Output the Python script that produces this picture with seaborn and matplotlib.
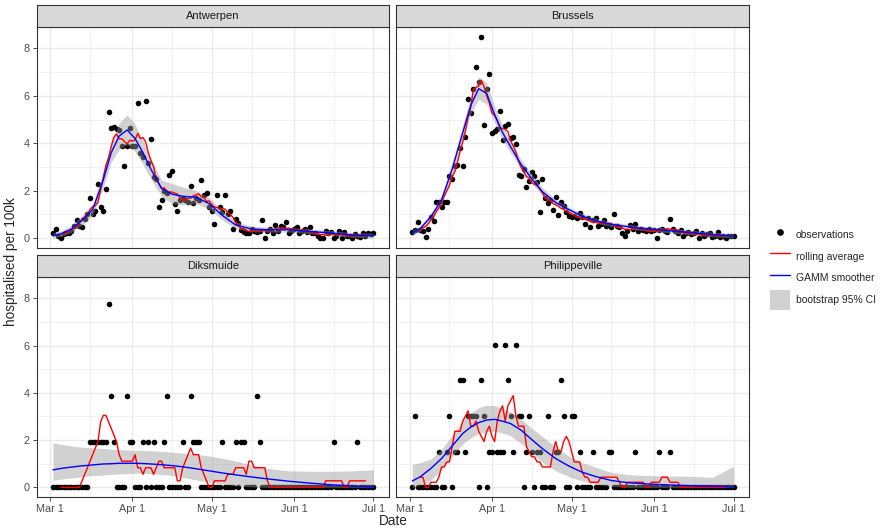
import pandas as pd
import seaborn as sns
import matplotlib.pyplot as plt
import matplotlib.dates as mdates
from matplotlib.ticker import MultipleLocator
from matplotlib.lines import Line2D
from matplotlib.patches import Patch

sns.set_theme(style="white")
plt.rcParams["font.family"] = ["Liberation Sans", "DejaVu Sans"]

GRID = "#ebebeb"
DARK = "#333333"
TICK_TXT = "#4d4d4d"

# observation dates, Mar 2 .. Jul 1
dates = pd.date_range("2020-03-02", "2020-07-01", freq="D")

antwerpen_obs = [
    0.2, 0.37, 0.1, 0.0, 0.15, 0.2, 0.2, 0.3, 0.5, 0.76,
    0.5, 0.48, 0.8, 1.0, 1.7, 1.0, 1.14, 2.28, 1.3, 1.14,
    2.08, 5.3, 4.66, 4.7, 4.6, 4.55, 3.88, 3.04, 3.88, 4.66,
    3.88, 3.88, 5.68, 3.6, 3.4, 5.8, 3.15, 4.16, 2.59, 2.5,
    1.32, 1.6, 2.0, 1.91, 2.66, 2.84, 1.43, 1.14, 1.6, 1.7,
    1.6, 1.5, 2.19, 1.46, 1.7, 1.6, 2.45, 1.81, 1.9, 1.3,
    1.14, 0.58, 1.81, 1.3, 1.1, 1.81, 1.0, 1.14, 0.37, 0.8,
    0.65, 0.34, 0.25, 0.2, 0.2, 0.4, 0.3, 0.25, 0.3, 0.76,
    0.0, 0.3, 0.4, 0.2, 0.55, 0.3, 0.5, 0.45, 0.66, 0.2,
    0.3, 0.4, 0.48, 0.2, 0.3, 0.38, 0.25, 0.45, 0.2, 0.2,
    0.1, 0.0, 0.0, 0.3, 0.2, 0.25, 0.0, 0.1, 0.3, 0.0,
    0.25, 0.1, 0.1, 0.0, 0.15, 0.1, 0.05, 0.2, 0.1, 0.2,
    0.15, 0.2,
]
brussels_obs = [
    0.27, 0.34, 0.69, 0.35, 0.3, 0.06, 0.4, 0.9, 0.7, 1.5,
    1.5, 1.3, 1.5, 1.5, 2.6, 2.5, 3.05, 3.1, 3.78, 3.05,
    4.28, 5.85, 5.26, 6.3, 7.23, 6.6, 8.47, 4.77, 6.3, 6.92,
    4.44, 4.5, 4.6, 5.37, 4.13, 4.73, 4.8, 4.2, 4.25, 3.97,
    2.66, 2.6, 2.9, 2.14, 2.4, 2.8, 2.6, 2.38, 1.08, 2.49,
    1.7, 1.49, 1.6, 1.18, 1.72, 0.97, 1.5, 1.35, 1.1, 0.93,
    0.9, 0.95, 0.85, 1.07, 0.9, 0.59, 0.85, 0.48, 0.75, 0.83,
    0.5, 0.6, 0.75, 0.5, 0.55, 0.45, 1.01, 0.5, 0.45, 0.2,
    0.1, 0.3, 0.55, 0.4, 0.59, 0.3, 0.4, 0.35, 0.3, 0.4,
    0.3, 0.35, 0.0, 0.35, 0.38, 0.3, 0.25, 0.8, 0.4, 0.3,
    0.2, 0.35, 0.1, 0.2, 0.25, 0.15, 0.2, 0.3, 0.0, 0.2,
    0.1, 0.15, 0.2, 0.05, 0.1, 0.25, 0.05, 0.1, 0.0, 0.1,
    0.1, 0.08,
]
diksmuide_obs = (
    [0] * 14 + [1.94] * 7 + [7.76, 3.88, 1.94] + [0] * 4 + [3.88, 1.94, 1.94]
    + [0] * 3 + [1.94, 0, 1.94, 0, 1.94] + [0] * 3 + [1.94, 3.88] + [0] * 5
    + [1.94, 0, 0, 3.88, 1.94, 1.94, 1.94] + [0] * 8 + [1.94] + [0] * 4
    + [1.94, 0, 1.94, 1.94] + [0] * 4 + [3.88, 1.94] + [0] * 27 + [1.94]
    + [0] * 8 + [1.94] + [0] * 6
)
philippeville_obs = (
    [0, 3.02] + [0] * 8 + [1.51, 0, 0, 1.51, 3.02, 0, 1.51, 1.51, 4.53, 4.53,
    1.51, 3.02, 3.02, 3.02, 3.02, 0, 4.53, 3.02, 0, 1.51, 1.51, 6.04, 1.51,
    1.51, 1.51, 6.04, 4.53, 3.02, 1.51, 6.04, 3.02, 3.02, 0, 1.51, 3.02, 1.51,
    0, 1.51, 1.51, 0, 0, 3.02, 0, 0, 1.51, 1.51, 4.53, 3.02, 0, 0, 3.02, 3.02,
    0, 1.51] + [0] * 4 + [1.51] + [0] * 5 + [1.51, 1.51] + [0] * 8 + [1.51]
    + [0] * 8 + [1.51, 0, 0, 0, 1.51] + [0] * 24
)

# GAMM smoother and bootstrap band, read at these days after Mar 1
smooth_days = [1, 4, 8, 12, 16, 20, 23, 26, 29, 32, 35, 38, 42, 46, 50, 55,
               60, 65, 70, 76, 82, 90, 98, 106, 114, 122]
antwerpen_fit = [0.1, 0.18, 0.38, 0.75, 1.2, 2.45, 3.6, 4.3, 4.56, 4.2, 3.6,
                 2.9, 2.1, 1.85, 1.76, 1.72, 1.45, 0.95, 0.55, 0.38, 0.35,
                 0.35, 0.28, 0.21, 0.13, 0.1]
antwerpen_lo = [0.0, 0.06, 0.23, 0.55, 0.95, 2.15, 3.2, 3.75, 3.95, 3.65, 3.1,
                2.5, 1.75, 1.45, 1.4, 1.45, 1.22, 0.76, 0.4, 0.26, 0.25, 0.25,
                0.18, 0.11, 0.03, 0.0]
antwerpen_hi = [0.22, 0.3, 0.53, 0.95, 1.45, 2.75, 4.0, 4.85, 5.2, 4.8, 4.1,
                3.3, 2.45, 2.3, 2.15, 2.0, 1.7, 1.15, 0.7, 0.5, 0.45, 0.45,
                0.38, 0.31, 0.23, 0.2]
brussels_fit = [0.22, 0.4, 0.9, 1.6, 2.9, 4.45, 5.6, 6.3, 6.1, 5.2, 4.45, 3.85,
                3.1, 2.5, 1.95, 1.5, 1.2, 0.92, 0.73, 0.58, 0.48, 0.38, 0.31,
                0.23, 0.15, 0.08]
brussels_lo = [0.1, 0.28, 0.75, 1.4, 2.6, 4.15, 5.25, 5.85, 5.65, 4.85, 4.15,
               3.6, 2.9, 2.3, 1.78, 1.38, 1.1, 0.82, 0.63, 0.48, 0.38, 0.28,
               0.21, 0.13, 0.05, 0.0]
brussels_hi = [0.34, 0.52, 1.05, 1.8, 3.2, 4.75, 5.95, 6.8, 6.55, 5.55, 4.75,
               4.1, 3.3, 2.7, 2.12, 1.62, 1.3, 1.02, 0.83, 0.68, 0.58, 0.48,
               0.41, 0.33, 0.25, 0.18]
diksmuide_fit = [0.74, 0.8, 0.86, 0.91, 0.95, 0.99, 1.0, 1.02, 1.02, 1.02,
                 1.01, 0.99, 0.96, 0.92, 0.87, 0.79, 0.7, 0.61, 0.53, 0.44,
                 0.36, 0.26, 0.18, 0.11, 0.06, 0.02]
diksmuide_lo = [0.3, 0.35, 0.4, 0.45, 0.5, 0.52, 0.55, 0.57, 0.58, 0.6, 0.6,
                0.58, 0.55, 0.5, 0.42, 0.32, 0.22, 0.14, 0.07, 0.02, 0.0, 0.0,
                0.0, 0.0, 0.0, 0.0]
diksmuide_hi = [1.88, 1.82, 1.75, 1.7, 1.67, 1.65, 1.62, 1.6, 1.58, 1.57, 1.57,
                1.55, 1.52, 1.49, 1.45, 1.4, 1.33, 1.23, 1.12, 0.95, 0.8, 0.7,
                0.68, 0.68, 0.7, 0.74]
philippeville_fit = [0.27, 0.45, 0.8, 1.22, 1.75, 2.28, 2.55, 2.74, 2.85, 2.88,
                     2.8, 2.7, 2.42, 2.02, 1.64, 1.22, 0.9, 0.64, 0.46, 0.29,
                     0.2, 0.14, 0.1, 0.07, 0.05, 0.03]
philippeville_lo = [0.0, 0.1, 0.3, 0.75, 1.3, 1.85, 2.1, 2.28, 2.36, 2.38, 2.3,
                    2.18, 1.85, 1.45, 1.05, 0.7, 0.45, 0.27, 0.13, 0.05, 0.0,
                    0.0, 0.0, 0.0, 0.0, 0.0]
philippeville_hi = [0.97, 1.05, 1.2, 1.6, 2.2, 2.87, 3.15, 3.37, 3.48, 3.46,
                    3.35, 3.2, 2.88, 2.5, 2.15, 1.7, 1.32, 1.05, 0.85, 0.64,
                    0.54, 0.5, 0.48, 0.47, 0.42, 0.9]

regions = ["Antwerpen", "Brussels", "Diksmuide", "Philippeville"]
observations = [antwerpen_obs, brussels_obs, diksmuide_obs, philippeville_obs]
fits = [antwerpen_fit, brussels_fit, diksmuide_fit, philippeville_fit]
lows = [antwerpen_lo, brussels_lo, diksmuide_lo, philippeville_lo]
highs = [antwerpen_hi, brussels_hi, diksmuide_hi, philippeville_hi]

W, H = 888, 531
fig = plt.figure(figsize=(W / 100, H / 100), dpi=100)

# panel boxes in pixels: (left, right), (strip top, plot top, plot bottom)
cols = [(36.7, 389.0), (396.0, 749.3)]
rows = [(5.3, 27.3, 248.0), (255.3, 277.3, 497.3)]

start = pd.Timestamp("2020-03-01")
smooth_dates = start + pd.to_timedelta(smooth_days, unit="D")
x_lo = start + pd.Timedelta(days=-5.14)
x_hi = start + pd.Timedelta(days=127.9)

for k, region in enumerate(regions):
    r, c = divmod(k, 2)
    x0, x1 = cols[c]
    s0, p0, p1 = rows[r]
    ax = fig.add_axes([x0 / W, 1 - p1 / H, (x1 - x0) / W, (p1 - p0) / H])
    sax = fig.add_axes([x0 / W, 1 - p0 / H, (x1 - x0) / W, (p0 - s0) / H])

    obs = pd.Series(observations[k], index=dates)
    rolling = obs.rolling(7, center=True).mean()

    sns.scatterplot(x=dates, y=obs.values, ax=ax, color="black", s=16,
                    linewidth=0, zorder=2, legend=False)
    ax.fill_between(smooth_dates, lows[k], highs[k], color="0.6", alpha=0.45,
                    linewidth=0, zorder=3)
    sns.lineplot(x=dates, y=rolling.values, ax=ax, color="red", linewidth=1.0,
                 zorder=4)
    sns.lineplot(x=smooth_dates, y=fits[k], ax=ax, color="blue", linewidth=1.0,
                 zorder=5)

    ax.set_xlim(x_lo, x_hi)
    ax.set_ylim(-0.42, 8.89)
    ax.xaxis.set_major_locator(mdates.MonthLocator())
    ax.xaxis.set_minor_locator(mdates.MonthLocator(bymonthday=16))
    ax.xaxis.set_major_formatter(mdates.DateFormatter("%b %-d"))
    ax.yaxis.set_major_locator(MultipleLocator(2))
    ax.yaxis.set_minor_locator(MultipleLocator(1))
    ax.set_axisbelow(True)
    ax.grid(which="major", color=GRID, linewidth=1.0)
    ax.grid(which="minor", color=GRID, linewidth=0.5)
    ax.set_xlabel("")
    ax.set_ylabel("")
    for sp in ax.spines.values():
        sp.set_color(DARK)
        sp.set_linewidth(0.8)
    ax.tick_params(which="major", length=3, width=0.6, color=DARK,
                   labelcolor=TICK_TXT, labelsize=7.8, pad=2)
    ax.tick_params(which="minor", length=0)
    ax.tick_params(axis="x", bottom=(r == 1), labelbottom=(r == 1))
    ax.tick_params(axis="y", left=(c == 0), labelleft=(c == 0))

    sax.set_facecolor("#d9d9d9")
    sax.set_xticks([])
    sax.set_yticks([])
    for sp in sax.spines.values():
        sp.set_color(DARK)
        sp.set_linewidth(0.8)
    sax.text(0.5, 0.5, region, ha="center", va="center", fontsize=8,
             color="#1a1a1a", transform=sax.transAxes)

fig.text(11 / W, 1 - 262 / H, "hospitalised per 100k", rotation=90,
         ha="center", va="center", fontsize=9.8)
fig.text(393 / W, 1 - 521 / H, "Date", ha="center", va="center",
         fontsize=9.8)

handles = [
    Line2D([], [], marker="o", linestyle="", color="black", markersize=3.8),
    Line2D([], [], color="red", linewidth=1.0),
    Line2D([], [], color="blue", linewidth=1.0),
    Patch(facecolor="0.6", alpha=0.45, edgecolor="none"),
]
labels = ["observations", "rolling average", "GAMM smoother",
          "bootstrap 95% CI"]
fig.legend(handles, labels, loc="center left",
           bbox_to_anchor=(770 / W, 1 - 267.5 / H), frameon=False,
           fontsize=7.5, handlelength=1.9, handleheight=2.58,
           labelspacing=0.15, handletextpad=0.6, borderpad=0,
           borderaxespad=0)

fig.savefig("out.png", dpi=100)
